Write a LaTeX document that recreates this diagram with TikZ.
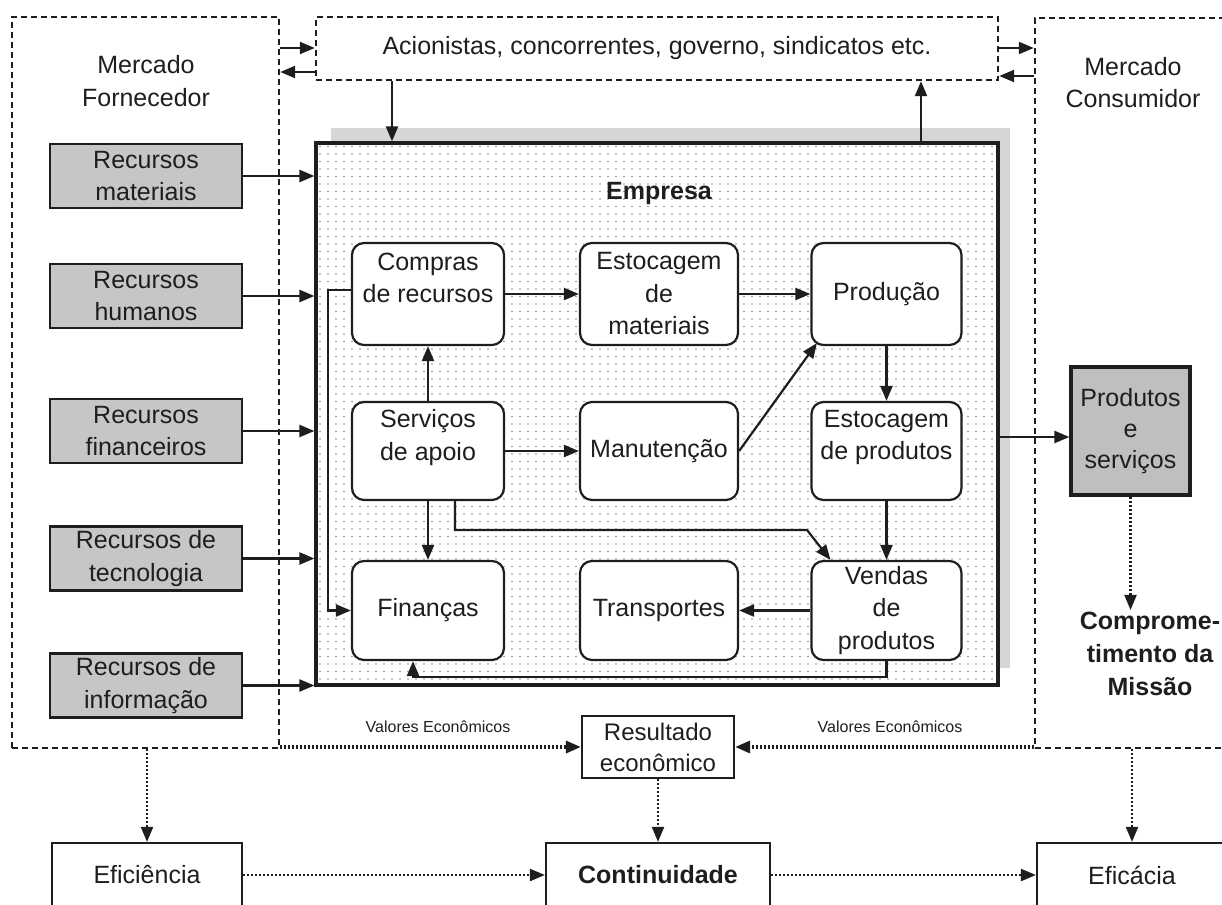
\documentclass[tikz,border=0pt]{standalone}
\usepackage{fontspec}
\setmainfont{Liberation Sans}
\usetikzlibrary{arrows.meta,patterns.meta}

\definecolor{ink}{HTML}{1E1E1E}

% sparse dot raster used inside the company block
\tikzdeclarepattern{
  name=empdots,
  type=uncolored,
  bounding box={(-4pt,-4pt) and (4pt,4pt)},
  tile size={(8pt,7.5pt)},
  code={\pgfpathcircle{\pgfpointorigin}{0.85pt}\pgfusepath{fill}}
}

\begin{document}
\begin{tikzpicture}[x=1pt,y=-1pt,
  every node/.style={text=ink, font=\fontsize{25}{32.5}\selectfont},
  container/.style={draw=ink, line width=2.4pt, dash pattern=on 6pt off 4pt, inner sep=0pt},
  resbox/.style={draw=ink, line width=2.4pt, fill=gray!45, align=center,
                 minimum width=192pt, minimum height=64pt, inner sep=0pt},
  inbox/.style={draw=ink, line width=2.2pt, rounded corners=12pt, fill=white,
                align=center, inner sep=0pt},
  outbox/.style={draw=ink, line width=2.2pt, fill=white, align=center, inner sep=0pt},
  boldtxt/.style={font=\fontsize{25}{33}\selectfont\bfseries},
  arr/.style={draw=ink, line width=2.2pt, -{Triangle[length=15pt,width=12pt]}},
  dotarr/.style={draw=ink, line width=2.2pt, dash pattern=on 2pt off 2pt,
                 -{Triangle[length=15pt,width=12pt]}},
  thickdot/.style={dotarr, line width=3.2pt},
]
\useasboundingbox (0,0) rectangle (1222,904);

% ---- environment containers ----
\node[container, minimum width=267pt, minimum height=731pt] (forn) at (145.5,382.5) {};
\node[container, minimum width=682pt, minimum height=63pt] (acion) at (657,48.5)
  {Acionistas, concorrentes, governo, sindicatos etc.};
\node[container, minimum width=205pt, minimum height=730pt] (cons) at (1137.5,383) {};

\node[align=center] (fornlbl) at (146,81) {Mercado\\Fornecedor};
\node[align=center] (conslbl) at (1133,82.5) {Mercado\\Consumidor};

% ---- company block with shadow ----
\fill[gray!32] (331,128) rectangle (1010,668);
\node[draw=ink, line width=3.2pt, preaction={fill=white}, pattern=empdots,
      pattern color=black!45, minimum width=682pt, minimum height=542pt,
      inner sep=0pt] (emp) at (657,414) {};
\node[font=\fontsize{25}{30}\selectfont\bfseries] (emplbl) at (659,193) {Empresa};

% ---- internal functions ----
\node[inbox, minimum width=152pt, minimum height=102pt] (compras) at (428,294) {Compras\\de recursos\\\mbox{}};
\node[inbox, minimum width=158pt, minimum height=102pt] (estmat) at (659,294) {Estocagem\\de\\materiais};
\node[inbox, minimum width=150pt, minimum height=102pt] (prod) at (886.5,294) {Produção};
\node[inbox, minimum width=152pt, minimum height=98pt] (serv) at (428,451) {Serviços\\de apoio\\\mbox{}};
\node[inbox, minimum width=158pt, minimum height=98pt] (manut) at (659,451) {Manutenção};
\node[inbox, minimum width=150pt, minimum height=98pt] (estprod) at (886.5,451) {Estocagem\\de produtos\\\mbox{}};
\node[inbox, minimum width=152pt, minimum height=99pt] (fin) at (428,610.5) {Finanças};
\node[inbox, minimum width=158pt, minimum height=99pt] (transp) at (659,610.5) {Transportes};
\node[inbox, minimum width=150pt, minimum height=99pt] (vendas) at (886.5,610.5) {Vendas\\de\\produtos};

% ---- resources ----
\node[resbox] (rm) at (146,176) {Recursos\\materiais};
\node[resbox] (rh) at (146,296) {Recursos\\humanos};
\node[resbox] (rf) at (146,431) {Recursos\\financeiros};
\node[resbox] (rt) at (146,558.5) {Recursos de\\tecnologia};
\node[resbox] (ri) at (146,685.5) {Recursos de\\informação};

% ---- outputs ----
\node[draw=ink, line width=3.2pt, fill=gray!50, minimum width=119pt, minimum height=128pt,
      align=center, inner sep=0pt, font=\fontsize{25}{31}\selectfont] (ps) at (1130.5,431) {Produtos\\e\\serviços};
\node[boldtxt, align=center, inner sep=2pt] (comp) at (1150,654) {Comprome-\\timento da\\Missão};

\node[outbox, minimum width=152pt, minimum height=62pt, font=\fontsize{24}{31}\selectfont] (res) at (658,747) {Resultado\\econômico};
\node[font=\fontsize{16}{19}\selectfont] (val1) at (438,727) {Valores Econômicos};
\node[font=\fontsize{16}{19}\selectfont] (val2) at (890,727) {Valores Econômicos};

\node[outbox, minimum width=190pt, minimum height=64pt] (efi) at (147,875) {Eficiência};
\node[outbox, minimum width=224pt, minimum height=64pt, font=\fontsize{25}{30}\selectfont\bfseries] (cont) at (658,875) {Continuidade};
\node[outbox, minimum width=190pt, minimum height=64pt] (efa) at (1132,875) {Eficácia};

% ---- helper coordinates for connector lanes ----
\coordinate (ya) at (0,48);
\coordinate (yb) at (0,72);
\coordinate (yc) at (0,76);
\coordinate (yd) at (0,437);
\coordinate (xa) at (392,0);
\coordinate (xb) at (921,0);
\coordinate (sv1) at (807,530);

% ---- exchanges with the environment ----
\draw[arr] (forn.east |- ya) -- (acion.west |- ya);
\draw[arr] (acion.west |- yb) -- (forn.east |- yb);
\draw[arr] (acion.east |- ya) -- (cons.west |- ya);
\draw[arr] (cons.west |- yc) -- (acion.east |- yc);
\draw[arr] (acion.south -| xa) -- (emp.north -| xa);
\draw[arr] (emp.north -| xb) -- (acion.south -| xb);

\foreach \r in {rm,rh,rf,rt,ri}
  \draw[arr] (\r.east) -- (\r.east -| emp.west);

\draw[arr] (emp.east |- yd) -- (ps.west |- yd);
\draw[dotarr] (ps.south) -- (ps.south |- comp.north);

% ---- internal flows ----
\draw[arr] (compras) -- (estmat);
\draw[arr] (estmat) -- (prod);
\draw[arr] (serv) -- (compras);
\draw[arr] (serv) -- (manut);
\draw[arr] (manut.east) -- ([xshift=6.5pt,yshift=3pt]prod.south west);
\draw[arr] (prod) -- (estprod);
\draw[arr] (estprod) -- (vendas);
\draw[arr] (serv) -- (fin);
\draw[arr] ([xshift=27pt]serv.south) |- (sv1) -- ([xshift=20pt]vendas.north west);
\draw[arr] (vendas) -- (transp);
\draw[arr] (vendas.south) -- ++(0,16) -| ([xshift=-15pt]fin.south);
\draw[arr] ([yshift=4pt]compras.west) -- ++(-23,0) |- (fin.west);

% ---- results ----
\draw[thickdot] (res.west -| forn.east) -- (res.west);
\draw[thickdot] (res.east -| cons.west) -- (res.east);
\draw[dotarr] (efi.north |- forn.south) -- (efi.north);
\draw[dotarr] (res) -- (cont);
\draw[dotarr] (efa.north |- cons.south) -- (efa.north);
\draw[dotarr] (efi) -- (cont);
\draw[dotarr] (cont) -- (efa);
\end{tikzpicture}
\end{document}
